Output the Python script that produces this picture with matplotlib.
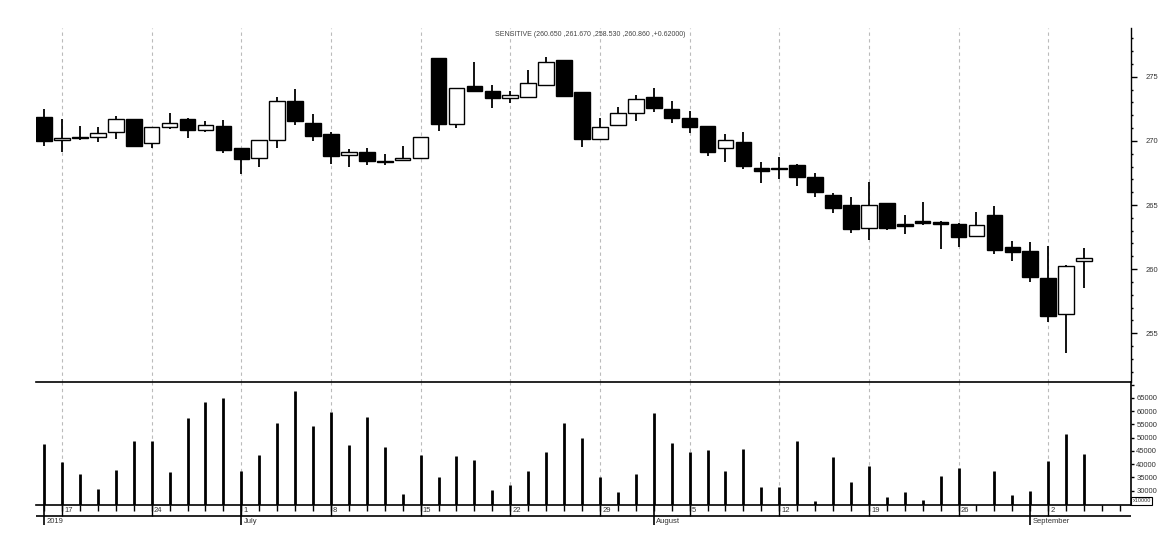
import matplotlib
matplotlib.use("Agg")
import matplotlib.pyplot as plt
import numpy as np
from matplotlib.ticker import FixedLocator, MultipleLocator, FuncFormatter

plt.rcParams['font.family'] = ['Liberation Sans', 'DejaVu Sans']

# trading days 14 Jun 2019 .. 4 Sep 2019 (index 0 .. 58), two empty days after
opens = [271.85, 270.03, 270.34, 270.34, 270.73, 271.67, 269.80, 271.09, 271.67, 270.81,
         271.14, 269.43, 268.63, 270.03, 273.09, 271.43, 270.52, 268.86, 269.10, 268.44,
         268.47, 268.70, 276.44, 271.28, 274.26, 273.92, 273.35, 273.43, 274.39, 276.29,
         273.80, 270.13, 271.20, 272.21, 273.40, 272.45, 271.82, 271.14, 269.41, 269.90,
         267.85, 267.90, 268.10, 267.15, 265.75, 264.97, 263.18, 265.12, 263.51, 263.78,
         263.64, 263.49, 262.55, 264.19, 261.70, 261.39, 259.28, 256.48, 260.65]
highs = [272.47, 271.74, 271.14, 271.07, 271.95, 271.70, 271.12, 272.16, 271.77, 271.53,
         271.61, 269.43, 270.05, 273.40, 274.03, 272.08, 270.70, 269.35, 269.43, 268.96,
         269.59, 270.34, 276.44, 274.16, 276.13, 274.34, 273.87, 275.50, 276.54, 276.30,
         273.80, 271.77, 272.62, 273.56, 274.10, 273.09, 272.31, 271.14, 270.52, 270.68,
         268.36, 268.75, 268.18, 267.46, 265.90, 265.59, 266.78, 265.12, 264.19, 265.23,
         263.72, 263.57, 264.45, 264.91, 262.21, 262.11, 261.80, 260.30, 261.67]
lows = [269.60, 269.14, 270.05, 269.90, 270.13, 269.50, 269.45, 270.93, 270.23, 270.70,
        269.07, 267.38, 267.98, 269.45, 271.25, 270.00, 268.20, 267.98, 268.13, 268.10,
        268.40, 268.55, 270.78, 270.99, 273.89, 272.57, 272.96, 273.43, 274.39, 273.40,
        269.50, 270.13, 271.20, 271.56, 272.26, 271.40, 270.62, 268.83, 268.36, 267.82,
        266.68, 267.00, 266.50, 265.64, 264.39, 262.83, 262.27, 263.05, 262.76, 263.43,
        261.54, 261.74, 262.55, 261.20, 260.65, 259.00, 255.90, 253.49, 258.53]
closes = [270.00, 270.26, 270.23, 270.58, 271.67, 269.61, 271.12, 271.43, 270.86, 271.20,
          269.30, 268.60, 270.05, 273.07, 271.56, 270.39, 268.83, 269.10, 268.44, 268.36,
          268.65, 270.34, 271.32, 274.16, 273.89, 273.35, 273.54, 274.50, 276.18, 273.50,
          270.13, 271.12, 272.21, 273.30, 272.57, 271.79, 271.09, 269.14, 270.05, 268.05,
          267.66, 267.82, 267.20, 266.03, 264.78, 263.15, 264.97, 263.22, 263.38, 263.60,
          263.49, 262.48, 263.41, 261.46, 261.31, 259.36, 256.37, 260.24, 260.86]
volumes = [47700, 40640, 36350, 30660, 37860, 48720, 48720, 36980, 57440, 63500,
           65140, 37600, 43420, 55540, 67420, 54400, 59710, 47210, 57940, 46580,
           28900, 43545, 35210, 43170, 41520, 30280, 32050, 37360, 44680, 55540,
           49900, 35300, 29650, 36350, 59330, 47970, 44680, 45440, 37360, 45820,
           31500, 31500, 48720, 26100, 42790, 33300, 39250, 27600, 29400, 26500,
           35600, 38500, np.nan, 37500, 28300, 29900, 41150, 51400, 43900]

monday_idx = [1, 6, 11, 16, 21, 26, 31, 36, 41, 46, 51, 56]
monday_labels = ['17', '24', '1', '8', '15', '22', '29', '5', '12', '19', '26', '2']
month_idx = [0, 11, 34, 55]
month_labels = ['2019', 'July', 'August', 'September']
n_slots = 61

title = 'SENSITIVE (260.650 ,261.670 ,258.530 ,260.860 ,+0.62000)'

W, H = 1172, 557
fig = plt.figure(figsize=(W / 100, H / 100), dpi=100)

def box(l, t, r, b):
    return [l / W, 1 - b / H, (r - l) / W, (b - t) / H]

ax = fig.add_axes(box(36, 28, 1130.7, 382))
axv = fig.add_axes(box(36, 382, 1130.7, 505))
axd = fig.add_axes(box(36, 505, 1130.7, 527))

x = np.arange(len(opens))
o = np.array(opens); c = np.array(closes)
xlim = (-0.45, 60.6)
grey = '#333333'

# price panel
ax.vlines(x, lows, highs, color='black', lw=1.3, zorder=2)
up = c >= o
ax.bar(x, np.abs(c - o), bottom=np.minimum(o, c), width=0.87,
       color=np.where(up, 'white', 'black'), edgecolor='black', lw=1.0, zorder=3)
ax.set_xlim(*xlim)
ax.set_ylim(251.2, 278.8)
for s in ['top', 'left', 'bottom']:
    ax.spines[s].set_visible(False)
ax.spines['right'].set_linewidth(1.0)
ax.yaxis.tick_right()
ax.yaxis.set_major_locator(MultipleLocator(5))
ax.yaxis.set_minor_locator(MultipleLocator(1))
ax.tick_params(axis='y', which='major', length=4, width=1, labelsize=5.5,
               labelcolor=grey, pad=7)
ax.tick_params(axis='y', which='minor', length=1.5, width=1)
ax.set_xticks([])
for m in monday_idx:
    ax.axvline(m, color='#bbbbbb', lw=0.8, dashes=(3, 3), zorder=1)
fig.text(590 / W, 1 - 35 / H, title, ha='center', va='center', fontsize=5, color='#444444')

# volume panel
axv.vlines(x, 24500, volumes, color='black', lw=2, zorder=3)
axv.set_xlim(*xlim)
axv.set_ylim(24600, 71000)
axv.spines['left'].set_visible(False)
for s in ['top', 'bottom', 'right']:
    axv.spines[s].set_linewidth(1.2)
axv.yaxis.tick_right()
axv.yaxis.set_major_locator(FixedLocator(range(30000, 75000, 5000)))
axv.yaxis.set_major_formatter(FuncFormatter(lambda v, p: '' if v > 66000 else '%d' % v))
axv.tick_params(axis='y', length=2, width=1, labelsize=5.5, labelcolor=grey, pad=2)
axv.set_xticks(range(n_slots))
axv.tick_params(axis='x', length=4, width=1, labelbottom=False)
for m in monday_idx:
    axv.axvline(m, color='#bbbbbb', lw=0.8, dashes=(3, 3), zorder=1)
fig.text(1132.5 / W, 1 - 501 / H, 'x10000', ha='left', va='center', fontsize=4, color=grey,
         bbox=dict(boxstyle='square,pad=0.2', fc='white', ec='black', lw=0.8))

# date rows
axd.set_xlim(*xlim)
axd.set_ylim(22, 0)
axd.axis('off')
axd.axhline(11, color='black', lw=1.2)
axd.vlines(monday_idx, 0, 11, color='black', lw=1)
axd.vlines(month_idx, 0, 20, color='black', lw=1.2)
for m, lab in zip(monday_idx, monday_labels):
    axd.text(m + 0.12, 5.6, lab, fontsize=5.5, color=grey, va='center', ha='left')
for m, lab in zip(month_idx, month_labels):
    axd.text(m + 0.12, 16.2, lab, fontsize=5.5, color=grey, va='center', ha='left')

fig.savefig('out.png', dpi=100)
